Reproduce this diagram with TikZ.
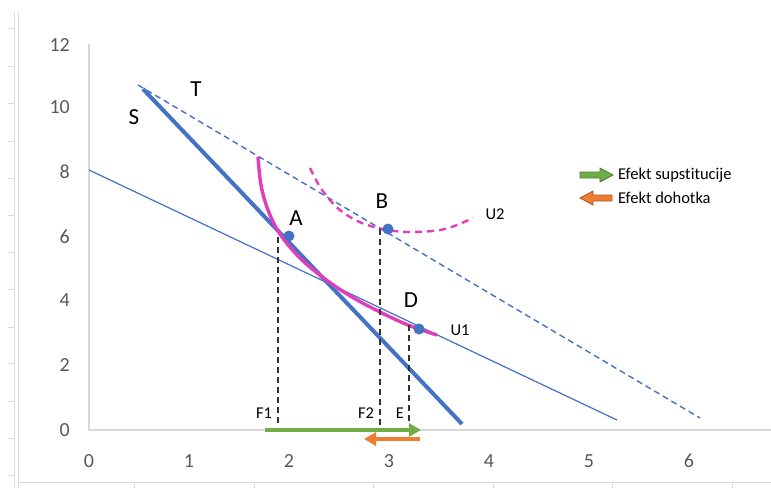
\documentclass[tikz,border=0pt]{standalone}
\usepackage{fontspec}
\setmainfont{Carlito}[Ligatures=NoCommon]
\usetikzlibrary{arrows.meta}
\definecolor{xlblue}{HTML}{4472C4}
\definecolor{xlmag}{HTML}{E23DBD}
\definecolor{xlgreen}{HTML}{70AD47}
\definecolor{xlgreend}{HTML}{507E32}
\definecolor{xlorange}{HTML}{ED7D31}
\definecolor{xlorangedark}{HTML}{AE5A21}
\definecolor{axgray}{HTML}{D9D9D9}
\definecolor{lblgray}{HTML}{595959}
\definecolor{cellgray}{HTML}{DCDCDC}
\tikzset{
  ticklbl/.style={text=lblgray, font=\fontsize{20}{22}\selectfont, inner sep=0pt},
  biglbl/.style={text=black, font=\fontsize{23}{25}\selectfont, inner sep=0pt},
  smalllbl/.style={text=black, font=\fontsize{16.5}{18}\selectfont, inner sep=0pt},
  axisline/.style={draw=axgray, line width=1.3pt},
  cellline/.style={draw=cellgray, line width=1pt},
  budgetS/.style={draw=xlblue, line width=4pt},
  budgetT/.style={draw=xlblue, line width=1.4pt, dash pattern=on 6pt off 4pt},
  budgetN/.style={draw=xlblue, line width=1.2pt},
  utilU/.style={draw=xlmag, line width=3.4pt},
  utilUd/.style={draw=xlmag, line width=2.4pt, dash pattern=on 7pt off 5pt},
  droplines/.style={draw=black!80, line width=1.2pt, dash pattern=on 6pt off 4pt},
  dotpt/.style={circle, fill=xlblue, minimum size=11pt, inner sep=0pt},
}
\begin{document}
\begin{tikzpicture}[x=1pt,y=-1pt]
\useasboundingbox (0,0) rectangle (771,488);
\fill[white] (0,0) rectangle (771,488);
% spreadsheet cell borders
\draw[cellline] (14,12) -- (14,488);
\draw[cellline] (18,12) -- (18,488);
\foreach \yy in {28,66,103,141,178,215,252,289,327,363,401,438,475}
  \draw[cellline] (8,\yy) -- (14,\yy);
\draw[cellline] (18,482) -- (771,482);
\foreach \xx in {134,254,373,493,612,732}
  \draw[cellline] (\xx,482) -- (\xx,488);
% axes
\coordinate (O) at (89,430);
\coordinate (Ytop) at (89,44);
\coordinate (Xend) at (771,430);
\draw[axisline] (Ytop) -- (O) -- (Xend);
% tick labels
\foreach \v/\yy in {12/45,10/107,8/172,6/237,4/300,2/365,0/430}
  \node[ticklbl, anchor=east] (y\v) at (70,\yy) {\v};
\foreach \v in {0,...,6}
  \node[ticklbl] (x\v) at (89+100*\v,461) {\v};
% budget lines
\coordinate (S1) at (143,89);
\coordinate (S2) at (462,424);
\coordinate (T1) at (138,85);
\coordinate (T2) at (700,418);
\coordinate (N1) at (89,170);
\coordinate (N2) at (617,420);
\draw[budgetN] (N1) -- (N2);
\draw[budgetT] (T1) -- (T2);
\draw[budgetS] (S1) -- (S2);
% indifference curves
\draw[utilU] plot[smooth, tension=0.6] coordinates {(258,157) (261,185) (268,210) (280,234) (300,258) (325,279) (352,297) (380,312) (408,325) (437,335)};
\draw[utilUd] plot[smooth, tension=0.6] coordinates {(310,168) (322,190) (340,210) (362,223) (388,230) (413,232) (445,229) (473,218)};
% points
\node[dotpt] (A) at (289,236) {};
\node[dotpt] (B) at (388,229) {};
\node[dotpt] (D) at (419,329) {};
% drop lines
\coordinate (F1b) at (278,425);
\coordinate (F1t) at (278,237);
\coordinate (F2b) at (380,425);
\coordinate (F2t) at (380,229);
\coordinate (Eb) at (409,425);
\coordinate (Et) at (409,325);
\draw[droplines] (F1t) -- (F1b);
\draw[droplines] (F2t) -- (F2b);
\draw[droplines] (Et) -- (Eb);
% labels
\node[biglbl] (lA) at (296,218) {A};
\node[biglbl] (lB) at (382,201) {B};
\node[biglbl] (lD) at (411,300) {D};
\node[biglbl] (lS) at (134,117) {S};
\node[biglbl] (lT) at (196,89) {T};
\node[smalllbl] (lU2) at (495,214) {U2};
\node[smalllbl] (lU1) at (460,330) {U1};
\node[smalllbl] (lF1) at (264,413) {F1};
\node[smalllbl] (lF2) at (366,413) {F2};
\node[smalllbl] (lE) at (400,413) {E};
% effect arrows
\coordinate (G1) at (265,430);
\coordinate (G2) at (421,430);
\coordinate (R1) at (420,439);
\coordinate (R2) at (364,439);
\draw[xlgreen, line width=3.6pt, -{Triangle[length=12pt,width=13pt]}] (G1) -- (G2);
\draw[xlorange, line width=3.6pt, -{Triangle[length=12pt,width=13pt]}] (R1) -- (R2);
% legend
\filldraw[fill=xlgreen, draw=xlgreend, line width=0.8pt]
  (580,172) -- (600,172) -- (600,168) -- (613,175) -- (600,182) -- (600,178) -- (580,178) -- cycle;
\filldraw[fill=xlorange, draw=xlorangedark, line width=0.8pt]
  (612,195) -- (593,195) -- (593,191) -- (580,198) -- (593,205) -- (593,201) -- (612,201) -- cycle;
\node[smalllbl, anchor=west] (leg1) at (618,175) {Efekt supstitucije};
\node[smalllbl, anchor=west] (leg2) at (618,198) {Efekt dohotka};
\end{tikzpicture}
\end{document}
